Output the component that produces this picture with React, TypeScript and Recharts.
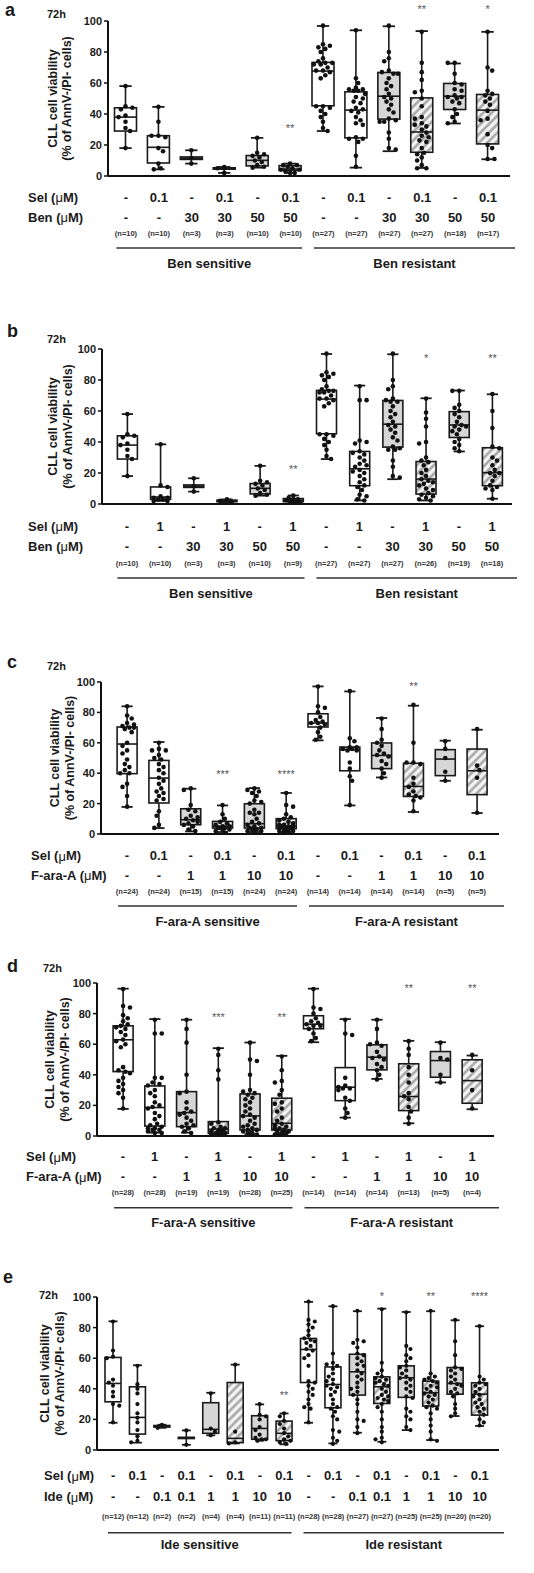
import React from 'react';
import { ComposedChart, Bar, XAxis, YAxis } from 'recharts';

const FONT = '"Liberation Sans", Arial, Helvetica, sans-serif';
const INK = '#1a1a1a';

// ---------- panel a (Ben, Sel 0.1) ----------
const aSel = ['-', '0.1', '-', '0.1', '-', '0.1', '-', '0.1', '-', '0.1', '-', '0.1'];
const aDrug = ['-', '-', '30', '30', '50', '50', '-', '-', '30', '30', '50', '50'];
const aN = [10, 10, 3, 3, 10, 10, 27, 27, 27, 27, 18, 17];
const aLo = [18, 4.3, 8, 2, 5.4, 2, 29, 5.4, 16, 5.2, 33.9, 10.8];
const aQ1 = [29, 8.4, 10.7, 4.4, 6.5, 3.7, 45.3, 24.6, 36.7, 15.3, 42.9, 20.7];
const aMed = [38, 18.5, 11.5, 4.8, 10.1, 4.5, 67.7, 42.5, 51.5, 28.4, 51.5, 42.5];
const aQ3 = [44, 26, 12.3, 5.3, 13.2, 6.7, 73.3, 54.3, 66.8, 50.4, 59.7, 52.6];
const aHi = [58, 44.6, 16.6, 5.8, 24.6, 8, 96.8, 94, 96.6, 93.5, 72.6, 93];
const aSig = ['', '', '', '', '', '**', '', '', '', '**', '', '*'];
const aSigAt = [0, 0, 0, 0, 0, 32, 0, 0, 0, 109, 0, 109];
const aPts = [
  [58, 45, 44, 43, 39, 38, 35, 31, 29, 18],
  [44.6, 35, 26, 26, 25, 18, 16, 8, 5, 4.3],
  [16.6, 11.5, 8],
  [5.8, 5, 2],
  [24.6, 15, 14, 13, 12, 10, 9, 7, 6, 5.4],
  [8, 7, 7, 6, 5, 4, 4, 3, 2, 2],
  [97, 85, 84, 83, 82, 80, 76, 74, 73, 73, 72, 72, 70, 68, 68, 67, 65, 63, 45, 45, 44, 42, 40, 38, 35, 31, 29],
  [94, 63, 60, 57, 56, 56, 55, 55, 53, 51, 50, 48, 47, 44, 43, 42, 41, 38, 36, 34, 33, 25, 24, 24, 22, 13, 6],
  [97, 80, 76, 74, 68, 67, 66, 66, 63, 60, 58, 56, 53, 51, 50, 48, 46, 43, 41, 37, 36, 35, 35, 28, 24, 18, 17],
  [93, 73, 67, 62, 55, 54, 50, 45, 38, 37, 34, 33, 32, 30, 28, 26, 25, 23, 22, 18, 15, 14, 12, 10, 7, 5, 5],
  [73, 73, 66, 60, 59, 56, 55, 52, 51, 51, 50, 48, 47, 43, 40, 38, 35, 34],
  [93, 70, 68, 55, 53, 52, 50, 48, 46, 42, 37, 36, 27, 20, 18, 11, 11],
];

// ---------- panel b (Ben, Sel 1) ----------
const bSel = ['-', '1', '-', '1', '-', '1', '-', '1', '-', '1', '-', '1'];
const bDrug = ['-', '-', '30', '30', '50', '50', '-', '-', '30', '30', '50', '50'];
const bN = [10, 10, 3, 3, 10, 9, 27, 27, 27, 26, 19, 18];
const bLo = [18, 2, 8, 1, 5.4, 1, 29, 2.3, 16, 2.3, 33.9, 3.4];
const bQ1 = [29, 3, 10.7, 1.5, 6.5, 1.5, 45.3, 11.8, 36.7, 6.4, 42.9, 11.8];
const bMed = [38, 4.5, 11.5, 2, 10.1, 2.5, 67.7, 22.7, 51.5, 16.1, 51, 20.2];
const bQ3 = [44, 11, 12.3, 2.5, 13.2, 3.5, 73.3, 33.9, 66.8, 27.4, 59.6, 36.3];
const bHi = [58, 38.5, 16.6, 3, 24.6, 5.5, 96.8, 76.4, 96.6, 68.2, 73.2, 70.8];
const bSig = ['', '', '', '', '', '**', '', '', '', '*', '', '**'];
const bSigAt = [0, 0, 0, 0, 0, 24, 0, 0, 0, 95.5, 0, 95.5];
const bPts = [
  [58, 45, 44, 43, 39, 38, 35, 31, 29, 18],
  [38.5, 12, 11, 5, 4, 4, 3, 3, 2, 2],
  [16.6, 11.5, 8],
  [3, 2, 1],
  [24.6, 15, 14, 13, 12, 10, 9, 7, 6, 5.4],
  [5.5, 4, 3, 3, 2.5, 2, 2, 1, 1],
  [97, 85, 84, 83, 82, 80, 76, 74, 73, 73, 72, 72, 70, 68, 68, 67, 65, 63, 45, 45, 44, 42, 40, 38, 35, 31, 29],
  [76, 67, 67, 41, 40, 39, 34, 33, 32, 30, 28, 26, 25, 24, 22, 21, 20, 18, 16, 14, 12, 11, 9, 6, 5, 3, 2.3],
  [97, 80, 76, 74, 68, 67, 66, 66, 63, 60, 58, 56, 53, 51, 50, 48, 46, 43, 41, 37, 36, 35, 35, 28, 24, 18, 17],
  [68, 59, 55, 50, 40, 39, 30, 28, 27, 25, 22, 20, 18, 16, 15, 14, 13, 12, 10, 9, 7, 6, 5, 4, 3, 2.3],
  [73, 73, 64, 62, 60, 58, 56, 53, 51, 50, 50, 48, 47, 45, 42, 40, 38, 36, 34],
  [71, 60, 49, 37, 36, 30, 28, 25, 22, 20, 20, 18, 15, 12, 11, 10, 9, 3.4],
];

// ---------- panel c (F-ara-A, Sel 0.1) ----------
const cSel = ['-', '0.1', '-', '0.1', '-', '0.1', '-', '0.1', '-', '0.1', '-', '0.1'];
const cDrug = ['-', '-', '1', '1', '10', '10', '-', '-', '1', '1', '10', '10'];
const cN = [24, 24, 15, 15, 24, 24, 14, 14, 14, 14, 5, 5];
const cLo = [17.8, 3.9, 1.7, 1.3, 1.3, 1.3, 61.6, 18.8, 37.2, 14.5, 35, 13.8];
const cQ1 = [39.7, 20.4, 6.1, 3.9, 3.9, 3.5, 70.4, 41.6, 43, 24.7, 38.4, 25.9];
const cMed = [59.2, 36.8, 9.4, 5.2, 6.8, 5.2, 73, 55.5, 51.7, 31.3, 49.3, 41.6];
const cQ3 = [70.4, 48.4, 16.6, 8.3, 19.9, 10.1, 79.1, 57.2, 59.9, 46.5, 55.5, 55.9];
const cHi = [84, 60.5, 29.8, 18.8, 30.2, 27, 97.1, 93.8, 76.3, 84.4, 61.4, 68.6];
const cSig = ['', '', '', '***', '', '****', '', '', '', '**', '', ''];
const cSigAt = [0, 0, 0, 41, 0, 41, 0, 0, 0, 98.7, 0, 0];
const cPts = [
  [84, 78, 76, 73, 72, 71, 70, 70, 69, 67, 60, 58, 55, 53, 49, 46, 44, 42, 40, 40, 33, 31, 25, 18],
  [60, 56, 55, 55, 52, 50, 49, 46, 44, 42, 40, 37, 35, 33, 30, 28, 27, 25, 23, 22, 15, 12, 6, 4],
  [30, 29, 19, 16, 15, 12, 11, 10, 9, 8, 7, 6, 5, 3, 2],
  [19, 13, 10, 8, 7, 6, 5, 5, 4, 4, 4, 3, 3, 2, 1],
  [30, 29, 28, 27, 25, 22, 21, 20, 16, 14, 14, 13, 10, 8, 7, 6, 5, 4, 4, 3, 3, 2, 2, 1],
  [27, 19, 18, 13, 11, 10, 9, 8, 7, 6, 6, 5, 5, 5, 4, 4, 4, 3, 3, 2, 2, 2, 1, 1],
  [97, 84, 83, 80, 77, 75, 74, 73, 73, 72, 70, 67, 64, 62],
  [94, 63, 61, 57, 57, 56, 56, 55, 55, 47, 43, 38, 35, 19],
  [76, 69, 62, 60, 58, 55, 53, 52, 51, 48, 46, 43, 40, 37],
  [85, 60, 47, 47, 46, 37, 33, 31, 28, 26, 25, 24, 22, 15],
  [61, 56, 50, 41, 35],
  [69, 45, 42, 37, 14],
];

// ---------- panel d (F-ara-A, Sel 1) ----------
const dSel = ['-', '1', '-', '1', '-', '1', '-', '1', '-', '1', '-', '1'];
const dDrug = ['-', '-', '1', '1', '10', '10', '-', '-', '1', '1', '10', '10'];
const dN = [28, 28, 19, 19, 28, 25, 14, 14, 14, 13, 5, 4];
const dLo = [17.7, 2.2, 2.2, 1.3, 1.1, 1.3, 61.3, 12, 37.3, 8.3, 35, 17.5];
const dQ1 = [42.1, 6.5, 6.1, 1.7, 3.9, 3.9, 70.1, 23.1, 43.2, 16.6, 38.4, 21.4];
const dMed = [62.9, 18.6, 15.3, 4.4, 13.1, 8.3, 73.1, 31.9, 51.5, 25.8, 49.3, 36.2];
const dQ3 = [72, 32.7, 29, 9.4, 27.5, 24.7, 78.6, 44.7, 59.6, 47.2, 55.2, 49.8];
const dHi = [96.3, 76.4, 76, 57.4, 61.1, 52.4, 96.3, 76.4, 76, 62.2, 61.3, 52.6];
const dSig = ['', '', '', '***', '', '**', '', '', '', '**', '', '**'];
const dSigAt = [0, 0, 0, 79.2, 0, 79.2, 0, 0, 0, 98.2, 0, 98.2];
const dPts = [
  [96, 85, 84, 79, 77, 75, 73, 72, 71, 70, 68, 66, 63, 62, 60, 58, 45, 43, 42, 41, 38, 36, 34, 32, 30, 28, 25, 18],
  [76, 67, 67, 38, 38, 35, 34, 33, 30, 28, 26, 22, 20, 19, 18, 15, 13, 11, 8, 7, 6, 5, 5, 4, 4, 3, 2, 2],
  [76, 70, 61, 40, 29, 28, 22, 18, 16, 15, 14, 12, 10, 8, 7, 6, 5, 3, 2],
  [57, 53, 43, 37, 9, 8, 6, 5, 5, 4, 4, 3, 3, 2, 2, 2, 1, 1, 1],
  [61, 50, 49, 40, 30, 29, 28, 27, 25, 24, 22, 20, 18, 16, 14, 13, 12, 10, 8, 7, 6, 5, 4, 4, 3, 2, 2, 1],
  [52, 43, 36, 35, 30, 27, 22, 21, 18, 16, 12, 10, 8, 7, 6, 5, 5, 4, 3, 3, 2, 2, 1, 1, 1],
  [96, 84, 83, 80, 77, 75, 74, 73, 72, 72, 70, 67, 64, 62],
  [76, 67, 66, 38, 33, 32, 31, 31, 30, 25, 23, 18, 15, 12],
  [76, 70, 61, 60, 59, 55, 52, 51, 50, 47, 45, 43, 40, 37],
  [62, 57, 53, 45, 40, 35, 28, 26, 24, 19, 16, 12, 8],
  [61, 51, 50, 40, 35],
  [53, 43, 30, 18],
];

// ---------- panel e (Ide, Sel 0.1) ----------
const eSel = ['-', '0.1', '-', '0.1', '-', '0.1', '-', '0.1', '-', '0.1', '-', '0.1', '-', '0.1', '-', '0.1'];
const eDrug = ['-', '-', '0.1', '0.1', '1', '1', '10', '10', '-', '-', '0.1', '0.1', '1', '1', '10', '10'];
const eN = [12, 12, 2, 2, 4, 4, 11, 11, 28, 28, 27, 27, 25, 25, 20, 20];
const eLo = [17.8, 4.8, 14.5, 3.4, 9.6, 4.3, 6.1, 3.7, 17.8, 4.3, 11.3, 5.4, 13, 6.5, 22.2, 15.7];
const eQ1 = [31.5, 10.4, 15, 7.5, 10.9, 4.8, 7, 6.1, 44.1, 27.6, 35.9, 30.4, 34.4, 28.7, 36.5, 22.8];
const eMed = [43.5, 21.3, 15.5, 7.9, 13.5, 7.6, 14.1, 10.9, 65.7, 42.8, 51.1, 41.3, 47.2, 37.4, 43.5, 36.5];
const eQ3 = [60.5, 41.3, 16, 8.3, 30.9, 44.1, 22.4, 18.9, 72.9, 54.3, 62.6, 47.8, 55, 45, 53.9, 43.9];
const eHi = [84.1, 55.4, 16.5, 12.8, 37.4, 55.8, 29.8, 23.9, 96.8, 93.9, 90.7, 92.4, 90.2, 90.7, 84.8, 80.9];
const eSig = ['', '', '', '', '', '', '', '**', '', '', '', '*', '', '**', '', '****'];
const eSigAt = [0, 0, 0, 0, 0, 0, 0, 37, 0, 0, 0, 102, 0, 102, 0, 102];
const ePts = [
  [84, 65, 61, 60, 46, 44, 42, 38, 35, 30, 29, 18],
  [55, 43, 40, 37, 30, 24, 21, 18, 13, 9, 6, 5],
  [16.5, 14.5],
  [12.8, 3.4],
  [37, 14, 12, 9.6],
  [55.8, 12, 5, 4.3],
  [30, 23, 22, 20, 15, 13, 10, 8, 7, 7, 6],
  [24, 22, 19, 17, 14, 11, 9, 7, 6, 5, 4],
  [97, 85, 84, 82, 80, 78, 75, 73, 72, 71, 70, 68, 66, 65, 62, 60, 55, 45, 44, 42, 40, 38, 36, 33, 30, 28, 27, 18],
  [94, 63, 57, 56, 55, 53, 50, 48, 46, 45, 43, 42, 41, 40, 38, 36, 33, 30, 28, 27, 25, 22, 20, 13, 12, 8, 6, 4],
  [91, 72, 71, 70, 67, 63, 62, 60, 58, 56, 55, 52, 50, 48, 46, 44, 41, 40, 38, 36, 33, 30, 25, 20, 19, 15, 11],
  [92, 57, 52, 50, 48, 47, 46, 45, 44, 43, 42, 40, 38, 36, 35, 34, 33, 32, 30, 28, 25, 20, 15, 12, 8, 7, 5],
  [90, 68, 66, 62, 60, 58, 55, 54, 52, 50, 48, 47, 46, 44, 42, 40, 38, 35, 34, 27, 25, 22, 20, 15, 13],
  [91, 50, 48, 47, 46, 45, 44, 42, 41, 40, 38, 37, 36, 35, 33, 31, 29, 28, 27, 24, 20, 16, 12, 7, 6],
  [85, 71, 62, 54, 53, 52, 50, 48, 46, 44, 43, 42, 40, 38, 37, 35, 30, 27, 24, 22],
  [81, 48, 46, 44, 43, 42, 40, 38, 36, 35, 33, 31, 30, 28, 27, 25, 23, 20, 18, 16],
];

const PANELS = [
  {
    id: 'a', top: 0, plotTop: 21, plotBottom: 176, axisX: 108, axisEnd: 510, padL: 1.5, padR: 5.5,
    barSize: 22, r: 2.3, rows: [21, 41, 57, 72, 87], letter: [5, 16], h72: [47, 18], yl: [53, 67], rowX: 28,
    drugName: 'Ben', groups: ['Ben sensitive', 'Ben resistant'],
    sel: aSel, drug: aDrug, n: aN, lo: aLo, q1: aQ1, med: aMed, q3: aQ3, hi: aHi, sig: aSig, sigAt: aSigAt, pts: aPts,
  },
  {
    id: 'b', top: 320, plotTop: 349, plotBottom: 504, axisX: 102, axisEnd: 512, padL: 8.4, padR: 3.4,
    barSize: 20, r: 2.3, rows: [22, 42, 59, 74, 89], letter: [7, 337], h72: [47, 343], yl: [53, 68], rowX: 28,
    drugName: 'Ben', groups: ['Ben sensitive', 'Ben resistant'],
    sel: bSel, drug: bDrug, n: bN, lo: bLo, q1: bQ1, med: bMed, q3: bQ3, hi: bHi, sig: bSig, sigAt: bSigAt, pts: bPts,
  },
  {
    id: 'c', top: 640, plotTop: 682, plotBottom: 834, axisX: 101, axisEnd: 499, padL: 10.1, padR: 6.1,
    barSize: 20, r: 2.3, rows: [21.5, 41, 57, 72, 87], letter: [7, 668], h72: [47, 670], yl: [55, 70], rowX: 31,
    drugName: 'F-ara-A', groups: ['F-ara-A sensitive', 'F-ara-A resistant'],
    sel: cSel, drug: cDrug, n: cN, lo: cLo, q1: cQ1, med: cMed, q3: cQ3, hi: cHi, sig: cSig, sigAt: cSigAt, pts: cPts,
  },
  {
    id: 'd', top: 950, plotTop: 983, plotBottom: 1136, axisX: 97, axisEnd: 494, padL: 10.1, padR: 6.1,
    barSize: 20, r: 2.3, rows: [20.7, 40.7, 56.3, 71.7, 86.3], letter: [7, 972], h72: [43, 972], yl: [50, 65], rowX: 26,
    drugName: 'F-ara-A', groups: ['F-ara-A sensitive', 'F-ara-A resistant'],
    sel: dSel, drug: dDrug, n: dN, lo: dLo, q1: dQ1, med: dMed, q3: dQ3, hi: dHi, sig: dSig, sigAt: dSigAt, pts: dPts,
  },
  {
    id: 'e', top: 1265, plotTop: 1297, plotBottom: 1450, axisX: 97, axisEnd: 499, padL: 4, padR: 7,
    barSize: 16, r: 2.1, rows: [25.7, 46.7, 66.7, 82.7, 94.3], letter: [3, 1283], h72: [39, 1299], yl: [45, 60], rowX: 44,
    drugName: 'Ide', groups: ['Ide sensitive', 'Ide resistant'],
    sel: eSel, drug: eDrug, n: eN, lo: eLo, q1: eQ1, med: eMed, q3: eQ3, hi: eHi, sig: eSig, sigAt: eSigAt, pts: ePts,
  },
];

// greedy beeswarm: horizontal offsets so dots don't overlap
function swarm(ys: number[], r: number, maxHalf: number) {
  const placed: { x: number; y: number }[] = [];
  const d = 2 * r + 0.3;
  ys.forEach((yy, idx) => {
    let best = 0;
    let bestScore = -1;
    let done = false;
    const sgn = idx % 2 === 0 ? 1 : -1;
    for (let s = 0; s <= maxHalf + 0.01 && !done; s += r) {
      const cands = s === 0 ? [0] : [sgn * s, -sgn * s];
      for (const c of cands) {
        let minD = Infinity;
        for (const p of placed) {
          const dd = Math.hypot(p.x - c, p.y - yy);
          if (dd < minD) minD = dd;
        }
        if (minD >= d) {
          best = c;
          done = true;
          break;
        }
        if (minD > bestScore) {
          bestScore = minD;
          best = c;
        }
      }
    }
    placed.push({ x: best, y: yy });
  });
  return placed;
}

const BoxShape = (props: any) => {
  const { x, y, width, height, payload, cfg } = props;
  if (!payload || !height) return null;
  const base = y + height;
  const k = height / payload.hi;
  const py = (v: number) => base - v * k;
  const cx = x + width / 2;
  const cap = width * 0.28;
  const fill = payload.kind === 'white' ? '#ffffff' : payload.kind === 'gray' ? '#d6d6d6' : 'url(#hatch)';
  const yq3 = py(payload.q3);
  const yq1 = py(payload.q1);
  const dots = swarm(payload.pts.map(py), cfg.r, width / 2 - 1);
  return (
    <g>
      <line x1={cx} x2={cx} y1={py(payload.hi)} y2={yq3} stroke={INK} strokeWidth={1.6} />
      <line x1={cx} x2={cx} y1={yq1} y2={py(payload.lo)} stroke={INK} strokeWidth={1.6} />
      <line x1={cx - cap} x2={cx + cap} y1={py(payload.hi)} y2={py(payload.hi)} stroke={INK} strokeWidth={1.8} />
      <line x1={cx - cap} x2={cx + cap} y1={py(payload.lo)} y2={py(payload.lo)} stroke={INK} strokeWidth={1.8} />
      <rect x={x} y={yq3} width={width} height={Math.max(yq1 - yq3, 0.8)} fill={fill} stroke={INK} strokeWidth={1.6} />
      <line x1={x} x2={x + width} y1={py(payload.med)} y2={py(payload.med)} stroke={INK} strokeWidth={1.6} />
      {dots.map((p, j) => (
        <circle key={j} cx={cx + p.x} cy={p.y} r={cfg.r} fill="#111" />
      ))}
      {payload.sig ? (
        <text x={cx} y={py(payload.sigAt) + 6} textAnchor="middle" fontSize={11} fill="#555" fontFamily={FONT}>
          {payload.sig}
        </text>
      ) : null}
    </g>
  );
};

const CatTick = (props: any) => {
  const { x, payload, cfg } = props;
  const i = Number(payload.value);
  const y0 = cfg.plotBottom - cfg.top;
  const cnt = cfg.sel.length;
  const band = (cfg.axisEnd - cfg.axisX - cfg.padL - cfg.padR) / cnt;
  const gSize = cnt / 2;
  let group = null;
  if (i % gSize === 0) {
    const g = i / gSize;
    const x1 = x - band / 2 + 7;
    const x2 = g === 1 ? cfg.axisEnd + 5 : x + (gSize - 0.5) * band - 5;
    group = (
      <g>
        <line x1={x1} x2={x2} y1={y0 + cfg.rows[3]} y2={y0 + cfg.rows[3]} stroke="#333" strokeWidth={1.5} />
        <text x={(x1 + x2) / 2} y={y0 + cfg.rows[4]} textAnchor="middle" dominantBaseline="central"
          fontSize={13} fontWeight="bold" fill={INK} fontFamily={FONT}>
          {cfg.groups[g]}
        </text>
      </g>
    );
  }
  return (
    <g>
      <text x={x} y={y0 + cfg.rows[0]} textAnchor="middle" dominantBaseline="central" fontSize={13}
        fontWeight="bold" fill={INK} fontFamily={FONT}>{cfg.sel[i]}</text>
      <text x={x} y={y0 + cfg.rows[1]} textAnchor="middle" dominantBaseline="central" fontSize={13}
        fontWeight="bold" fill={INK} fontFamily={FONT}>{cfg.drug[i]}</text>
      <text x={x} y={y0 + cfg.rows[2]} textAnchor="middle" dominantBaseline="central" fontSize={7.5}
        fontWeight="bold" fill="#333" fontFamily={FONT}>{`(n=${cfg.n[i]})`}</text>
      {group}
    </g>
  );
};

const AXIS_H = 112;

const Panel = ({ cfg }: { cfg: any }) => {
  const data = cfg.sel.map((s: string, i: number) => ({
    key: i,
    lo: cfg.lo[i],
    q1: cfg.q1[i],
    med: cfg.med[i],
    q3: cfg.q3[i],
    hi: cfg.hi[i],
    pts: cfg.pts[i],
    sig: cfg.sig[i],
    sigAt: cfg.sigAt[i],
    kind: cfg.drug[i] === '-' ? 'white' : s === '-' ? 'gray' : 'hatch',
  }));
  const mTop = cfg.plotTop - cfg.top;
  const height = mTop + (cfg.plotBottom - cfg.plotTop) + AXIS_H;
  return (
    <div style={{ position: 'absolute', left: 0, top: cfg.top }}>
      <ComposedChart
        width={534}
        height={height}
        data={data}
        margin={{ top: mTop, right: 534 - cfg.axisEnd, bottom: 0, left: cfg.axisX - 30 }}
      >
        <XAxis
          dataKey="key"
          type="category"
          interval={0}
          height={AXIS_H}
          tickLine={false}
          axisLine={{ stroke: '#111', strokeWidth: 2 }}
          padding={{ left: cfg.padL, right: cfg.padR }}
          tick={(p: any) => <CatTick {...p} cfg={cfg} />}
        />
        <YAxis
          type="number"
          domain={[0, 100]}
          ticks={[0, 20, 40, 60, 80, 100]}
          width={30}
          tickSize={4}
          tickMargin={2}
          axisLine={{ stroke: '#111', strokeWidth: 2 }}
          tickLine={{ stroke: '#111', strokeWidth: 1.5 }}
          tick={{ fontSize: 11, fontWeight: 'bold', fill: INK, fontFamily: FONT }}
        />
        <Bar
          dataKey="hi"
          barSize={cfg.barSize}
          isAnimationActive={false}
          shape={(p: any) => <BoxShape {...p} cfg={cfg} />}
        />
      </ComposedChart>
    </div>
  );
};

const Overlay = () => (
  <svg width={534} height={1573} style={{ position: 'absolute', left: 0, top: 0, pointerEvents: 'none' }}>
    <defs>
      <pattern id="hatch" patternUnits="userSpaceOnUse" width={6} height={6} patternTransform="rotate(45)">
        <rect width={6} height={6} fill="#f4f4f4" />
        <line x1={1.5} y1={0} x2={1.5} y2={6} stroke="#a3a3a3" strokeWidth={2.4} />
      </pattern>
    </defs>
    {PANELS.map((p) => {
      const mid = (p.plotTop + p.plotBottom) / 2;
      return (
        <g key={p.id} fontFamily={FONT} fill={INK}>
          <text x={p.letter[0]} y={p.letter[1]} fontSize={18} fontWeight="bold">{p.id}</text>
          <text x={p.h72[0]} y={p.h72[1]} fontSize={11} fontWeight="bold">72h</text>
          <text x={p.yl[0]} y={mid} transform={`rotate(-90 ${p.yl[0]} ${mid})`} textAnchor="middle"
            dominantBaseline="central" fontSize={12.5} fontWeight="bold">CLL cell viability</text>
          <text x={p.yl[1]} y={mid} transform={`rotate(-90 ${p.yl[1]} ${mid})`} textAnchor="middle"
            dominantBaseline="central" fontSize={12.5} fontWeight="bold">(% of AnnV-/PI- cells)</text>
          <text x={p.rowX} y={p.plotBottom + p.rows[0]} dominantBaseline="central" fontSize={13} fontWeight="bold">
            Sel (<tspan fontWeight="normal">μ</tspan>M)
          </text>
          <text x={p.rowX} y={p.plotBottom + p.rows[1]} dominantBaseline="central" fontSize={13} fontWeight="bold">
            {p.drugName} (<tspan fontWeight="normal">μ</tspan>M)
          </text>
        </g>
      );
    })}
  </svg>
);

export default function App() {
  return (
    <div style={{ position: 'absolute', left: 0, top: 0, width: 534, height: 1573, background: '#fff' }}>
      {PANELS.map((p) => (
        <Panel key={p.id} cfg={p} />
      ))}
      <Overlay />
    </div>
  );
}
